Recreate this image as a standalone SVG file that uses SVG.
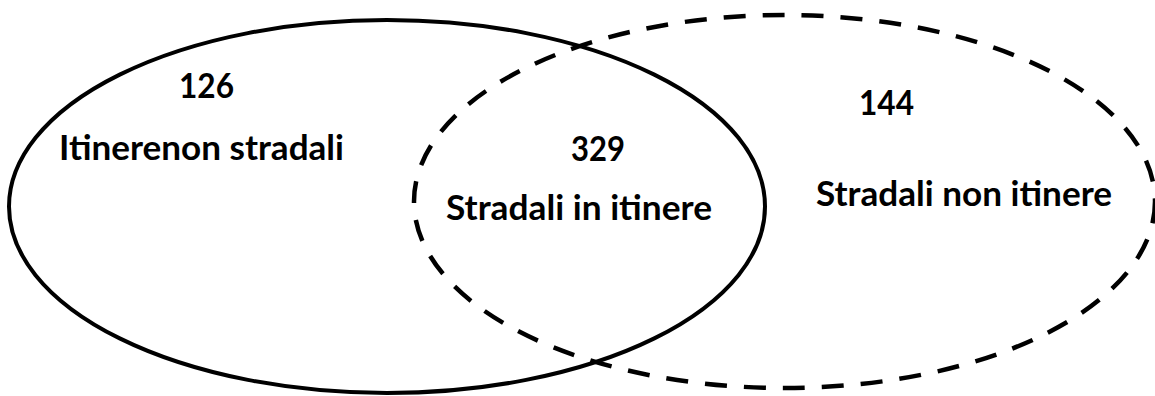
<svg xmlns="http://www.w3.org/2000/svg" width="1155" height="396" viewBox="0 0 1155 396">
<style>
.set{fill:none;stroke:#000;stroke-width:4}
.dash{stroke-dasharray:22 17;stroke-width:4.5}
.lbl{font-family:Lato,"Open Sans","Liberation Sans",sans-serif;font-weight:bold;font-size:34px;fill:#000}
</style>
<rect width="1155" height="396" fill="#fff"/>
<g id="set-itinere">
<ellipse class="set" cx="387" cy="206.5" rx="378" ry="186.5"/>
<text class="lbl" x="179" y="98" textLength="55" lengthAdjust="spacingAndGlyphs">126</text>
<text class="lbl" x="59" y="160" textLength="285" lengthAdjust="spacingAndGlyphs">Itinerenon stradali</text>
</g>
<g id="set-stradali">
<ellipse class="set dash" cx="784.5" cy="201.5" rx="370.5" ry="186.5"/>
<text class="lbl" x="859" y="115" textLength="55" lengthAdjust="spacingAndGlyphs">144</text>
<text class="lbl" x="816" y="206" textLength="296" lengthAdjust="spacingAndGlyphs">Stradali non itinere</text>
</g>
<g id="intersection">
<text class="lbl" x="571" y="161" textLength="54" lengthAdjust="spacingAndGlyphs">329</text>
<text class="lbl" x="446" y="220" textLength="266" lengthAdjust="spacingAndGlyphs">Stradali in itinere</text>
</g>
<g id="connectors"/>
</svg>
